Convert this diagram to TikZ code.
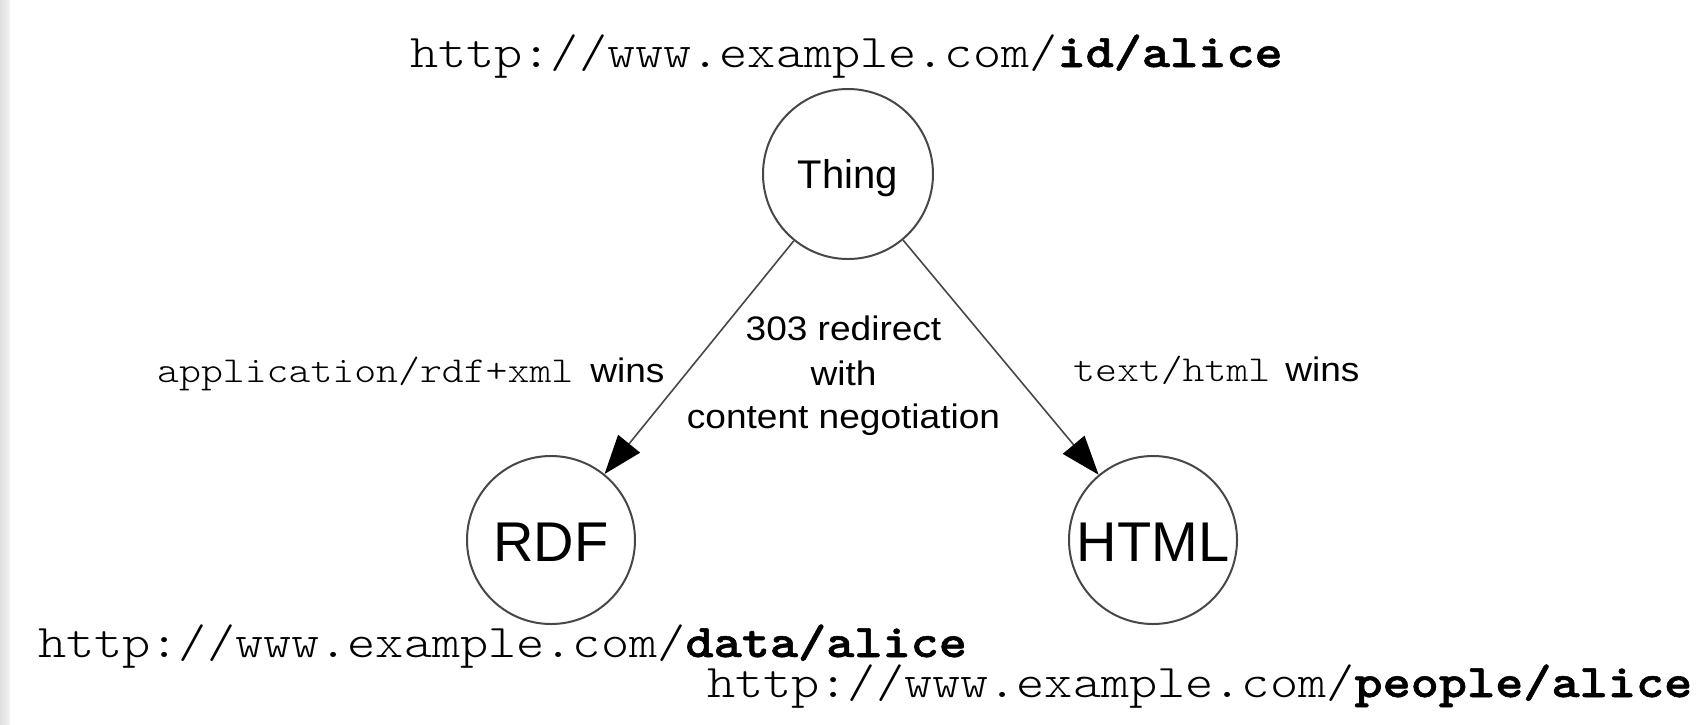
\documentclass[tikz,border=0pt]{standalone}
\usepackage{fontspec}
\newfontfamily\monof{lmmonolt10-regular.otf}[BoldFont=lmmonolt10-bold.otf, BoldFeatures={FakeBold=1.2}, FakeStretch=1.143]
\newfontfamily\sansf[FakeStretch=1.09]{Liberation Sans}
\newfontfamily\sansp{Liberation Sans}
\usetikzlibrary{arrows.meta}
\begin{document}
\begin{tikzpicture}[x=1pt,y=-1pt,
  urltext/.style={anchor=base west, inner sep=0pt, font=\fontsize{46.9}{50}\selectfont\monof},
  lbltext/.style={anchor=base west, inner sep=0pt},
  midtext/.style={anchor=base, inner sep=0pt, font=\fontsize{34}{40}\selectfont\sansf},
  circ/.style={circle, draw=black!72, line width=2pt, inner sep=0pt, text depth=0pt},
  conn/.style={draw=black!72, line width=1.6pt, -{Triangle[length=39pt,width=28pt,color=black]}}
]
\useasboundingbox (0,0) rectangle (1697,724);
\fill[white] (0,0) rectangle (1697,724);
\shade[left color=black!13, right color=black!4] (0,0) rectangle (10,724);

\node[circ, minimum size=170pt, text height=29pt, font=\fontsize{40}{44}\selectfont\sansp] (thing) at (848,174) {Thing};
\node[circ, minimum size=168pt, text height=42pt, font=\fontsize{56}{60}\selectfont\sansp] (rdf) at (551,540) {RDF};
\node[circ, minimum size=168pt, text height=42pt, font=\fontsize{56}{60}\selectfont\sansp] (html) at (1153,540) {HTML};

\draw[conn] (thing) -- (rdf);
\draw[conn] (thing) -- (html);

\node[urltext] (uid) at (410,67) {http://www.example.com/\textbf{id/alice}};
\node[urltext] (udata) at (38,657) {http://www.example.com/\textbf{data/alice}};
\node[urltext] (upeople) at (707,697) {http://www.example.com/\textbf{people/alice}};

\node[lbltext] (lrdf) at (157,382) {{\fontsize{36.5}{40}\selectfont\monof application/rdf+xml}\hspace{17pt}{\fontsize{34}{40}\selectfont\sansf wins}};
\node[lbltext] (lhtml) at (1073,381) {{\fontsize{36.5}{40}\selectfont\monof text/html}\hspace{15pt}{\fontsize{34}{40}\selectfont\sansf wins}};

\node[midtext] (m1) at (843.5,340) {303 redirect};
\node[midtext] (m2) at (843.5,385) {with};
\node[midtext] (m3) at (843.5,428) {content negotiation};
\end{tikzpicture}
\end{document}
